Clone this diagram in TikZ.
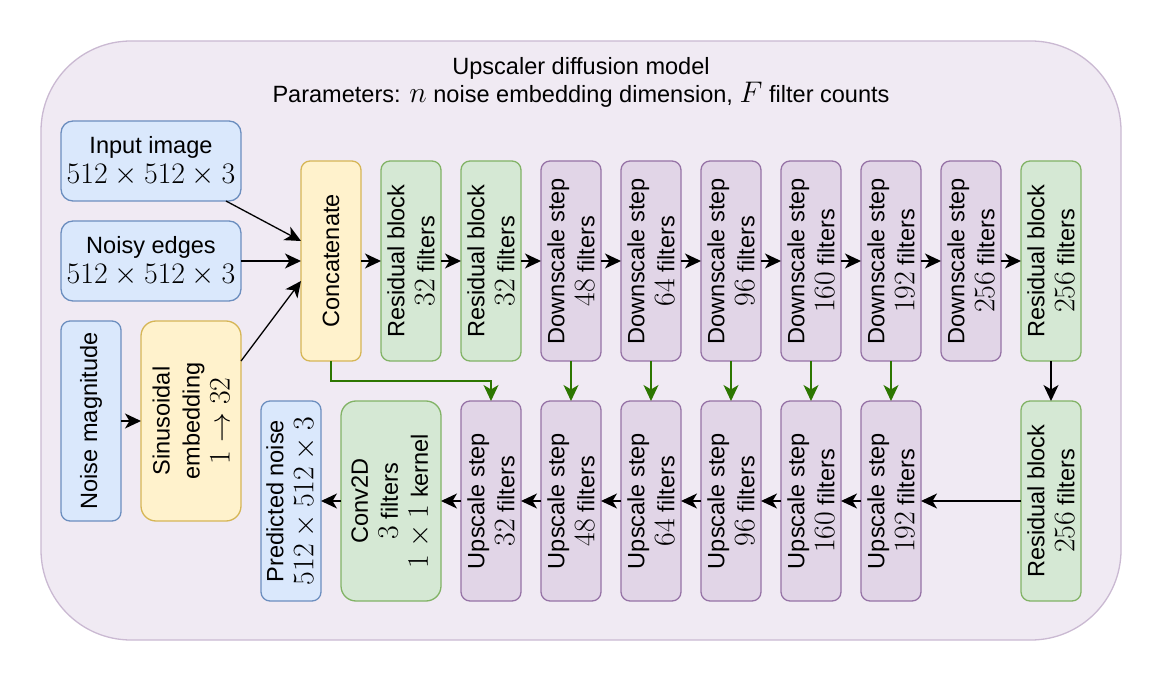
\RequirePackage{fix-cm}
\documentclass[tikz,border=0pt]{standalone}
\usepackage{amsmath, amssymb}
\usepackage{xcolor}
\usepackage[no-math]{fontspec}
\setmainfont{Liberation Sans}[Scale=0.79]
\usepackage{tikz}
\usetikzlibrary{arrows.meta}

\definecolor{bluefill}{HTML}{DAE8FC}
\definecolor{bluedraw}{HTML}{6C8EBF}
\definecolor{yelfill}{HTML}{FFF2CC}
\definecolor{yeldraw}{HTML}{D6B656}
\definecolor{grnfill}{HTML}{D5E8D4}
\definecolor{grndraw}{HTML}{82B366}
\definecolor{purfill}{HTML}{E1D5E7}
\definecolor{purdraw}{HTML}{9673A6}
\definecolor{boxfill}{HTML}{F0EAF3}
\definecolor{boxdraw}{HTML}{CAB9D2}
\definecolor{skipgreen}{HTML}{2D7600}

\tikzset{
	blk/.style={draw, line width=1.3pt, rounded corners=9pt, align=center, inner sep=2pt, outer sep=0pt},
	tall/.style={blk, rotate=90, minimum width=200pt, minimum height=60pt},
	inblk/.style={blk, fill=bluefill, draw=bluedraw},
	yelblk/.style={blk, fill=yelfill, draw=yeldraw},
	resblk/.style={tall, fill=grnfill, draw=grndraw},
	stepblk/.style={tall, fill=purfill, draw=purdraw},
	arr/.style={line width=1.3pt, -{Stealth[length=16pt, width=15pt, inset=4.5pt]}},
	skiparr/.style={arr, draw=skipgreen}
}

\begin{document}
\begin{tikzpicture}[x=1pt, y=-1pt, font=\fontsize{29.8}{30}\selectfont]

\useasboundingbox (0,0) rectangle (1164,684);
\fill[white] (0,0) rectangle (1164,684);

% outer container
\draw[line width=1.3pt, fill=boxfill, draw=boxdraw, rounded corners=90pt] (41,41) rectangle (1121,640);
\node[align=center] (title) at (581,82) {Upscaler diffusion model\\[-2pt]Parameters: $n$ noise embedding dimension, $F$ filter counts};

% inputs
\node[inblk, minimum width=180pt, minimum height=80pt, rounded corners=12pt] (input) at (151,161) {Input image\\$512\times512\times3$};
\node[inblk, minimum width=180pt, minimum height=80pt, rounded corners=12pt] (noisy) at (151,261) {Noisy edges\\$512\times512\times3$};
\node[inblk, rotate=90, minimum width=200pt, minimum height=60pt] (noisemag) at (91,421) {Noise magnitude};
\node[yelblk, rotate=90, minimum width=200pt, minimum height=100pt, rounded corners=15pt] (sinus) at (191,421) {Sinusoidal\\embedding\\$1\to32$};
\node[yelblk, rotate=90, minimum width=200pt, minimum height=60pt] (concat) at (331,261) {Concatenate};

% top row
\node[resblk] (res1) at (411,261) {Residual block\\$32$ filters};
\node[resblk] (res2) at (491,261) {Residual block\\$32$ filters};
\foreach \n/\x in {48/571,64/651,96/731,160/811,192/891,256/971}{
	\node[stepblk] (ds\n) at (\x,261) {Downscale step\\$\n$ filters};
}
\node[resblk] (resa) at (1051,261) {Residual block\\$256$ filters};

% bottom row
\node[resblk] (resb) at (1051,501) {Residual block\\$256$ filters};
\foreach \n/\x in {32/491,48/571,64/651,96/731,160/811,192/891}{
	\node[stepblk] (us\n) at (\x,501) {Upscale step\\$\n$ filters};
}
\node[resblk, minimum height=100pt, rounded corners=15pt] (conv) at (391,501) {Conv2D\\$3$ filters\\$1\times1$ kernel};
\node[inblk, rotate=90, minimum width=200pt, minimum height=60pt] (pred) at (291,501) {Predicted noise\\$512\times512\times3$};

% connectors
\draw[arr] (input) -- ([yshift=20pt]concat.north);
\draw[arr] (noisy) -- (concat);
\draw[arr] ([yshift=60pt]sinus.south) -- ([yshift=-20pt]concat.north);
\draw[arr] (noisemag) -- (sinus);

\foreach \a/\b in {concat/res1,res1/res2,res2/ds48,ds48/ds64,ds64/ds96,ds96/ds160,ds160/ds192,ds192/ds256,ds256/resa,resa/resb,resb/us192,us192/us160,us160/us96,us96/us64,us64/us48,us48/us32,us32/conv,conv/pred}{
	\draw[arr] (\a) -- (\b);
}

\foreach \n in {48,64,96,160,192}{
	\draw[skiparr] (ds\n) -- (us\n);
}
\draw[skiparr] (concat.west) -- ++(0,20) -| (us32);

\end{tikzpicture}
\end{document}
